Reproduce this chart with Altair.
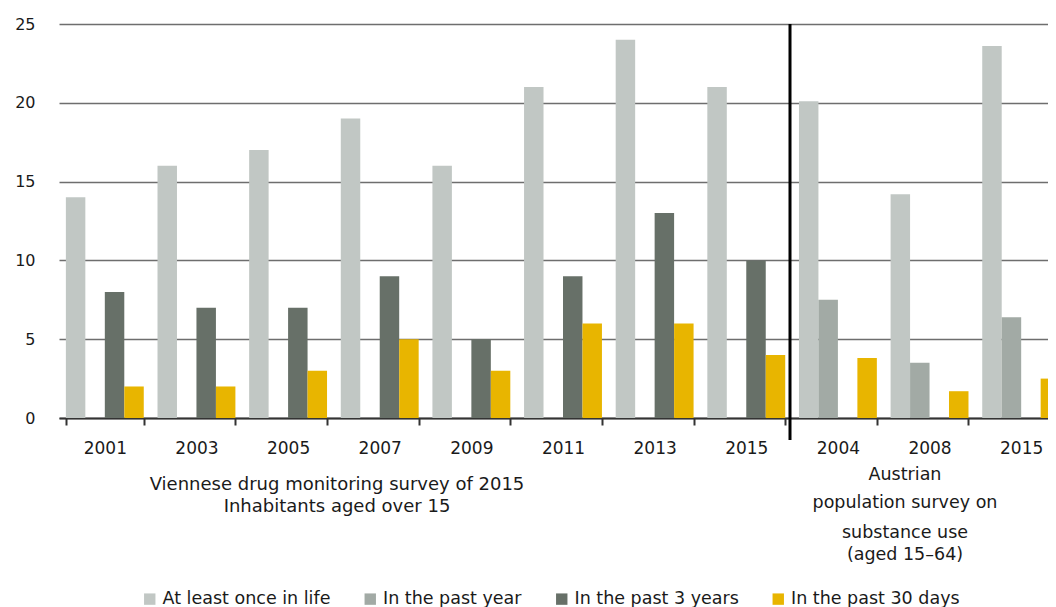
import altair as alt
import pandas as pd

groups = ["2001", "2003", "2005", "2007", "2009", "2011", "2013", "V2015", "2004", "2008", "A2015"]
series = ["At least once in life", "In the past year", "In the past 3 years", "In the past 30 days"]
colors = ["#c1c7c4", "#a2aaa5", "#677068", "#e8b500"]

lifetime = [14, 16, 17, 19, 16, 21, 24, 21, 20.1, 14.2, 23.6]
past_year = [None, None, None, None, None, None, None, None, 7.5, 3.5, 6.4]
past_3y = [8, 7, 7, 9, 5, 9, 13, 10, None, None, None]
past_30d = [2, 2, 3, 5, 3, 6, 6, 4, 3.8, 1.7, 2.5]

rows = []
for i, g in enumerate(groups):
    for s, vals in zip(series, [lifetime, past_year, past_3y, past_30d]):
        v = vals[i]
        if v is not None:
            rows.append({"group": g, "series": s, "value": v})
df = pd.DataFrame(rows)

FONT = "DejaVu Sans"
W, H = 989, 394
XRANGE = 1008

bars = alt.Chart(df).mark_bar().encode(
    x=alt.X("group:N", sort=groups,
            scale=alt.Scale(domain=groups, paddingInner=0.15, paddingOuter=0.075,
                            range=[0, XRANGE]),
            axis=alt.Axis(title=None, labelAngle=0, tickBand="extent",
                          labelExpr="isValid(datum.value) ? replace(replace(datum.value,'V',''),'A','') : ''",
                          labelFontSize=17, labelColor="#1a1a1a", labelFont=FONT,
                          labelPadding=15, domainColor="#333333", domainWidth=2,
                          tickColor="#333333", tickWidth=2, tickSize=7, grid=False)),
    xOffset=alt.XOffset("series:N", sort=series, scale=alt.Scale(domain=series)),
    y=alt.Y("value:Q",
            scale=alt.Scale(domain=[0, 25], nice=False),
            axis=alt.Axis(title=None, values=[0, 5, 10, 15, 20, 25], domain=False, ticks=False,
                          labelFontSize=16, labelColor="#1a1a1a", labelFont=FONT,
                          labelPadding=24, gridColor="#6e6e6e", gridWidth=1.5)),
    color=alt.Color("series:N", sort=series,
                    scale=alt.Scale(domain=series, range=colors),
                    legend=alt.Legend(title=None, orient="none", direction="horizontal",
                                      legendX=82, legendY=566, symbolType="square",
                                      symbolSize=130, symbolStrokeWidth=0,
                                      labelFontSize=17.5, labelFont=FONT, labelColor="#1a1a1a",
                                      labelLimit=400, columnPadding=30.5, labelOffset=4)),
)

divider = alt.Chart(pd.DataFrame({"x": [0]})).mark_rule(color="black", strokeWidth=3).encode(
    x=alt.value(731), y=alt.value(0), y2=alt.value(416)
)

ann_text = ["Viennese drug monitoring survey of 2015", "Inhabitants aged over 15",
            "Austrian", "population survey on", "substance use", "(aged 15\u201364)"]
ann_x = [278, 278, 846, 846, 846, 846]
ann_y = [461, 483, 451, 479, 509, 531]
ann_size = [18, 18, 17.5, 17.5, 17.5, 17.5]
ann = alt.Chart(pd.DataFrame({"t": ann_text, "px": ann_x, "py": ann_y, "fs": ann_size})).mark_text(
    font=FONT, color="#1a1a1a", baseline="middle", align="center"
).encode(
    text="t:N",
    x=alt.X("px:Q", scale=None),
    y=alt.Y("py:Q", scale=None),
    size=alt.Size("fs:Q", scale=None, legend=None),
)

chart = alt.layer(bars, divider, ann).properties(
    width=W, height=H,
    autosize=alt.AutoSizeParams(type="none"),
    padding={"left": 51, "top": 16, "right": 0, "bottom": 190},
).configure_view(stroke=None)

chart.save("out.html", embed_options={"renderer": "svg", "actions": False})
